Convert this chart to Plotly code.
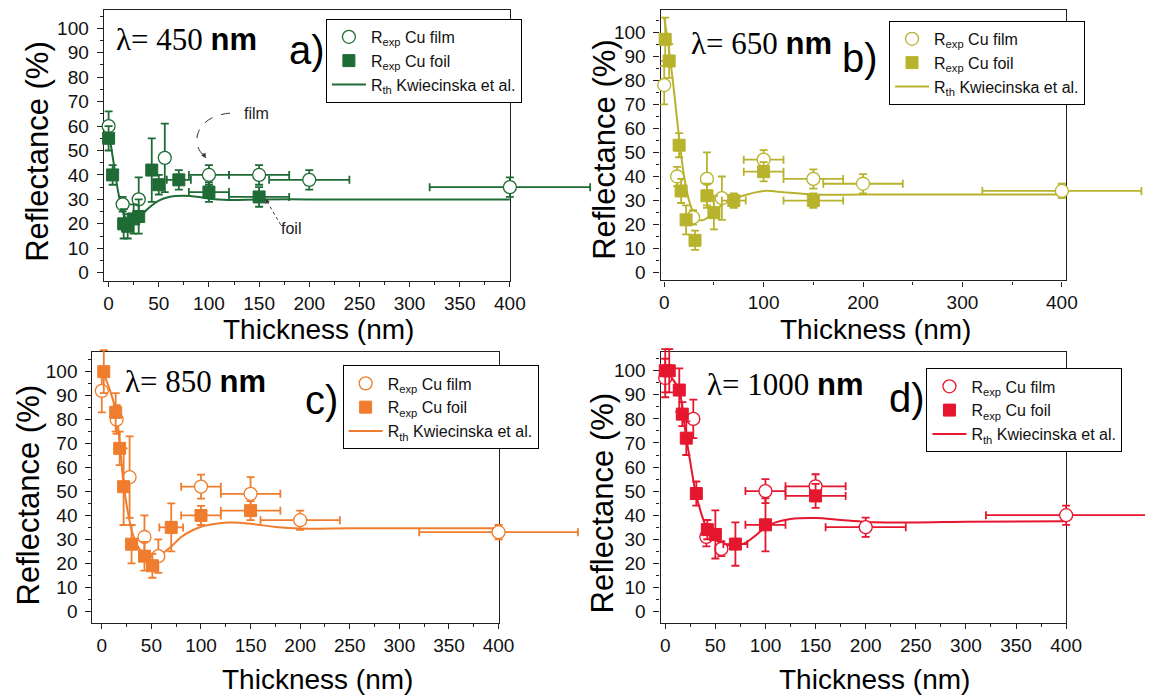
import plotly.graph_objects as go

W, H = 1161, 700

# ---------------- Panel a: lambda = 450 nm ----------------
a_film_x = [0, 14, 30, 56, 100, 150, 200, 400]
a_film_y = [60, 28, 30, 47, 40, 40, 38, 35]
a_film_ey = [6, 3, 9, 14, 4, 4, 4, 4]
a_film_ex = [0, 0, 0, 5, 20, 30, 40, 80]
a_foil_x = [0, 4, 15, 19, 25, 30, 43, 50, 70, 100, 150]
a_foil_y = [55, 40, 20, 19, 22, 23, 42, 36, 38, 33, 31]
a_foil_ey = [5, 4, 6, 5, 6, 7, 13, 4, 4, 4, 4]
a_foil_ex = [0, 0, 0, 0, 0, 0, 0, 0, 12, 20, 30]
a_th_x = [0, 5, 10, 15, 20, 25, 30, 40, 50, 60, 75, 90, 100, 120, 150, 200, 300, 400]
a_th_y = [58, 45, 32, 24, 21, 21, 22.5, 26.5, 29.5, 31, 31.5, 31, 30.3, 29.8, 30, 30, 30, 30]

# ---------------- Panel b: lambda = 650 nm ----------------
b_film_x = [0, 13, 29, 43, 58, 100, 150, 200, 400]
b_film_y = [78, 40, 23, 39, 31, 47, 39, 37, 34]
b_film_ey = [8, 4, 3, 11, 9, 4, 4, 4, 3]
b_film_ex = [0, 0, 0, 0, 0, 20, 30, 40, 80]
b_foil_x = [1, 5, 15, 17, 22, 31, 43, 50, 70, 100, 150]
b_foil_y = [97, 88, 53, 34, 22, 13.5, 32, 25, 30, 42, 30]
b_foil_ey = [9, 7, 5, 5, 6, 4, 5, 7, 3, 4, 3]
b_foil_ex = [0, 0, 0, 0, 0, 0, 0, 0, 12, 20, 30]
b_th_x = [0, 5, 10, 15, 20, 25, 30, 35, 40, 50, 60, 75, 100, 120, 150, 200, 300, 400]
b_th_y = [106, 92, 75, 56, 40, 30, 24.5, 22, 22, 25, 29, 31.5, 34, 33.5, 32.5, 32.5, 32.5, 32.5]

# ---------------- Panel c: lambda = 850 nm ----------------
c_film_x = [0, 15, 28, 43, 57, 100, 150, 200, 400]
c_film_y = [92, 80, 56, 31, 23, 52, 49, 38, 33]
c_film_ey = [9, 6, 17, 9, 7, 5, 7, 4, 3]
c_film_ex = [0, 0, 0, 0, 0, 20, 30, 40, 80]
c_foil_x = [2, 14, 18, 22, 30, 43, 51, 70, 100, 150]
c_foil_y = [100, 83, 68, 52, 28, 23, 19, 35, 40, 42]
c_foil_ey = [9, 8, 7, 16, 8, 6, 5, 10, 4, 4]
c_foil_ex = [0, 0, 0, 0, 0, 0, 5, 12, 20, 30]
c_th_x = [0, 5, 10, 15, 18, 22, 26, 30, 35, 40, 45, 50, 55, 60, 70, 80, 90, 100, 115, 130, 150, 175, 200, 250, 300, 400]
c_th_y = [101, 96, 90, 82, 70, 53, 42, 34, 28, 25, 23.5, 23, 23, 23.8, 27, 31, 33.5, 35.3, 36.5, 37, 36.5, 35.2, 34.5, 34.6, 34.6, 34.6]

# ---------------- Panel d: lambda = 1000 nm ----------------
d_film_x = [0, 28, 41, 56, 100, 150, 200, 400]
d_film_y = [97, 80, 31, 26, 50, 52, 35, 40]
d_film_ey = [8, 8, 4, 3, 5, 5, 4, 4]
d_film_ex = [0, 0, 0, 0, 20, 30, 40, 80]
d_foil_x = [0, 4, 14, 17, 21, 31, 42, 50, 70, 100, 150]
d_foil_y = [100, 100, 92, 82, 72, 49, 34, 32, 28, 36, 48]
d_foil_ey = [9, 9, 9, 5, 7, 5, 4, 10, 9, 11, 5]
d_foil_ex = [0, 0, 0, 0, 0, 0, 0, 5, 12, 20, 30]
d_th_x = [0, 10, 15, 20, 25, 30, 35, 40, 45, 50, 55, 60, 70, 80, 90, 100, 110, 125, 150, 175, 200, 250, 300, 400]
d_th_y = [100, 95, 90, 75, 62, 50, 42, 36, 32.5, 30, 28.5, 27.8, 27.3, 28.5, 31.5, 35, 37, 38.4, 38.8, 38, 37.2, 37, 37.3, 37.5]

wavelengths = ["450", "650", "850", "1000"]
letters = ["a)", "b)", "c)", "d)"]
colors = ["#1f6b35", "#b8b32c", "#ef7d2d", "#e5162d"]

SANS = "Liberation Sans, Arial, sans-serif"
SERIF = "Liberation Serif, Times New Roman, serif"

panels = [
    dict(film=(a_film_x, a_film_y, a_film_ey, a_film_ex), foil=(a_foil_x, a_foil_y, a_foil_ey, a_foil_ex),
         th=(a_th_x, a_th_y), dom_x=(103.3, 515.9), dom_y=(10, 282), xr=[-4.9, 400], yr=[-3.3, 107.5],
         ext_r=605, dtick=50, leg=(329, 19), lam=(114, 40), let=(289, 50), ytit=(36, 152), xtit=(321, 331)),
    dict(film=(b_film_x, b_film_y, b_film_ey, b_film_ex), foil=(b_foil_x, b_foil_y, b_foil_ey, b_foil_ex),
         th=(b_th_x, b_th_y), dom_x=(668.9, 1080.9), dom_y=(10, 281.7), xr=[-3.7, 404.3], yr=[-3.2, 109.2],
         ext_r=1161, dtick=100, leg=(901, 21), lam=(698, 44), let=(851, 58), ytit=(612, 150), xtit=(887, 331)),
    dict(film=(c_film_x, c_film_y, c_film_ey, c_film_ex), foil=(c_foil_x, c_foil_y, c_foil_ey, c_foil_ex),
         th=(c_th_x, c_th_y), dom_x=(91.8, 504.4), dom_y=(354, 625.7), xr=[-9.5, 400], yr=[-4.9, 108],
         ext_r=595, dtick=50, leg=(346, 367), lam=(123, 383), let=(306, 402), ytit=(27, 497), xtit=(320, 682)),
    dict(film=(d_film_x, d_film_y, d_film_ey, d_film_ex), foil=(d_foil_x, d_foil_y, d_foil_ey, d_foil_ex),
         th=(d_th_x, d_th_y), dom_x=(668.9, 1080.9), dom_y=(354, 625.7), xr=[-4.7, 400], yr=[-4.8, 107.6],
         ext_r=1161, dtick=50, leg=(939, 370), lam=(714, 386), let=(899, 400), ytit=(610, 505), xtit=(886, 682)),
]

fig = go.Figure()
annotations = []
shapes = []
layout = {}

for i, p in enumerate(panels):
    n = i + 1
    hn = n + 4
    xa = "x" if n == 1 else f"x{n}"
    ya = "y" if n == 1 else f"y{n}"
    hxa, hya = f"x{hn}", f"y{hn}"
    leg = "legend" if n == 1 else f"legend{n}"
    col = colors[i]

    x0, x1 = p["dom_x"]
    y0, y1 = p["dom_y"]
    xr0, xr1 = p["xr"]
    yr0, yr1 = p["yr"]

    # theoretical curve on the visible axes
    tx, ty = p["th"]
    fig.add_trace(go.Scatter(x=tx, y=ty, mode="lines", line=dict(color=col, width=2, shape="spline", smoothing=0.8),
                             name="R<sub>th</sub> Kwiecinska et al.", xaxis=xa, yaxis=ya, legend=leg,
                             legendrank=3, hoverinfo="skip"))
    # experimental points on a hidden twin of the axes with identical scale but a wider clip area
    fx, fy, fey, fex = p["film"]
    fig.add_trace(go.Scatter(x=fx, y=fy, mode="markers", name="R<sub>exp</sub> Cu film",
                             marker=dict(symbol="circle", size=13, color="white", line=dict(color=col, width=1.3)),
                             error_y=dict(type="data", array=fey, color=col, thickness=1.8, width=4),
                             error_x=dict(type="data", array=fex, color=col, thickness=1.8, width=4),
                             xaxis=hxa, yaxis=hya, legend=leg, legendrank=1, cliponaxis=False))
    sx, sy, sey, sex = p["foil"]
    fig.add_trace(go.Scatter(x=sx, y=sy, mode="markers", name="R<sub>exp</sub> Cu foil",
                             marker=dict(symbol="square", size=12, color=col, line=dict(color=col, width=1)),
                             error_y=dict(type="data", array=sey, color=col, thickness=1.8, width=4),
                             error_x=dict(type="data", array=sex, color=col, thickness=1.8, width=4),
                             xaxis=hxa, yaxis=hya, legend=leg, legendrank=2, cliponaxis=False))

    tickfont = dict(family=SANS, size=19, color="#111")
    common = dict(showline=True, linecolor="#222", linewidth=1.2, mirror=True, ticks="outside",
                  tickwidth=1.2, tickcolor="#222", showgrid=False, zeroline=False, tickfont=tickfont)
    layout["xaxis" if n == 1 else f"xaxis{n}"] = dict(
        common, domain=[x0 / W, x1 / W], range=[xr0, xr1], anchor=ya, tick0=0, dtick=p["dtick"], ticklen=5,
        minor=dict(ticks="outside", ticklen=3, tickwidth=1, tickcolor="#222", dtick=p["dtick"] / 2))
    layout["yaxis" if n == 1 else f"yaxis{n}"] = dict(
        common, domain=[1 - y1 / H, 1 - y0 / H], range=[yr0, yr1], anchor=xa, tick0=0, dtick=10, ticklen=6,
        ticklabelstandoff=4,
        minor=dict(ticks="outside", ticklen=3, tickwidth=1, tickcolor="#222", dtick=5))

    # hidden twin axes (same pixel scale, larger domain)
    ppx = (x1 - x0) / (xr1 - xr0)
    ppy = (y1 - y0) / (yr1 - yr0)
    el, er = 6, p["ext_r"] - x1
    et, eb = min(12, y0), 6
    layout[f"xaxis{hn}"] = dict(visible=False, domain=[(x0 - el) / W, (x1 + er) / W],
                                range=[xr0 - el / ppx, xr1 + er / ppx], anchor=hya, fixedrange=True)
    layout[f"yaxis{hn}"] = dict(visible=False, domain=[1 - (y1 + eb) / H, 1 - (y0 - et) / H],
                                range=[yr0 - eb / ppy, yr1 + et / ppy], anchor=hxa, fixedrange=True)

    lx, ly = p["leg"]
    layout[leg] = dict(x=lx / W, y=1 - ly / H, xanchor="left", yanchor="top", bgcolor="white",
                       bordercolor="black", borderwidth=1, font=dict(family=SANS, size=16, color="#111"),
                       tracegroupgap=0, itemwidth=34)

    lamx, lamy = p["lam"]
    annotations.append(dict(xref="paper", yref="paper", x=lamx / W, y=1 - lamy / H, xanchor="left",
                            yanchor="middle", showarrow=False,
                            text=f'<span style="font-family:{SERIF}">λ= {wavelengths[i]} </span><b>nm</b>',
                            font=dict(family=SANS, size=31, color="black")))
    ltx, lty = p["let"]
    annotations.append(dict(xref="paper", yref="paper", x=ltx / W, y=1 - lty / H, xanchor="left",
                            yanchor="middle", showarrow=False, text=letters[i],
                            font=dict(family=SANS, size=40, color="black")))
    ytx, yty = p["ytit"]
    annotations.append(dict(xref="paper", yref="paper", x=ytx / W, y=1 - yty / H, xanchor="center",
                            yanchor="middle", showarrow=False, text="Reflectance (%)", textangle=-90,
                            font=dict(family=SANS, size=31, color="black")))
    xtx, xty = p["xtit"]
    annotations.append(dict(xref="paper", yref="paper", x=xtx / W, y=1 - xty / H, xanchor="center",
                            yanchor="middle", showarrow=False, text="Thickness (nm)",
                            font=dict(family=SANS, size=28, color="black")))

# film / foil pointers in panel a
shapes.append(dict(type="path", xref="x", yref="y", path="M 121,65.3 C 85,64 82,52 95,48",
                   line=dict(color="#333", width=1, dash="dash")))
shapes.append(dict(type="line", xref="x", yref="y", x0=171.6, y0=19.6, x1=158, y1=29,
                   line=dict(color="#333", width=1, dash="dot")))
annotations.append(dict(xref="x", yref="y", x=97, y=46.8, ax=93, ay=49.5, axref="x", ayref="y", text="",
                        showarrow=True, arrowhead=2, arrowsize=1, arrowwidth=1, arrowcolor="#333"))
annotations.append(dict(xref="x", yref="y", x=156.6, y=30.4, ax=159, ay=28, axref="x", ayref="y", text="",
                        showarrow=True, arrowhead=2, arrowsize=1, arrowwidth=1, arrowcolor="#333"))
annotations.append(dict(xref="x", yref="y", x=147, y=65, showarrow=False, text="film",
                        font=dict(family=SANS, size=16, color="#222")))
annotations.append(dict(xref="x", yref="y", x=182, y=18, showarrow=False, text="foil",
                        font=dict(family=SANS, size=16, color="#222")))

fig.update_layout(**layout)
fig.update_layout(width=W, height=H, margin=dict(l=0, r=0, t=0, b=0), paper_bgcolor="white",
                  plot_bgcolor="rgba(0,0,0,0)", showlegend=True, annotations=annotations, shapes=shapes,
                  font=dict(family=SANS))
fig.write_html("out.html", config={"displayModeBar": False},
               post_script="document.body.style.margin='0px';")
